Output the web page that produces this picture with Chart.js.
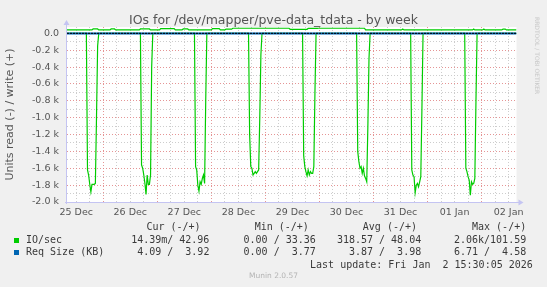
<!DOCTYPE html>
<html>
<head>
<meta charset="utf-8">
<script src="https://cdn.jsdelivr.net/npm/chart.js@4.4.0/dist/chart.umd.min.js"></script>
<style>
  html, body { margin: 0; padding: 0; background: #f0f0f0; overflow: hidden; }
  #wrap { position: relative; width: 547px; height: 287px; }
  #grafico { position: absolute; left: 0; top: 0; }
  .txt { position: absolute; white-space: pre; line-height: 12px; }
  .mono { font-family: 'DejaVu Sans Mono', monospace; font-size: 10px; color: #3a3a3a; }
  .titulo { left: 0; width: 547px; top: 13px; text-align: center; font-family: 'DejaVu Sans', sans-serif; font-size: 12.5px; color: #555; line-height: 14px; }
  .rrd { left: 533px; top: 17px; writing-mode: vertical-rl; font-family: 'DejaVu Sans', sans-serif; font-size: 6px; color: #c8c8c8; line-height: 8px; }
  .munin { left: 0; width: 547px; top: 271px; text-align: center; font-family: 'DejaVu Sans', sans-serif; font-size: 7.5px; color: #b4b4b4; line-height: 10px; }
  .box { position: absolute; width: 5px; height: 5px; }
</style>
</head>
<body>
<div id="wrap">
  <canvas id="grafico" width="547" height="287"></canvas>
  <div class="txt titulo">IOs for /dev/mapper/pve-data_tdata - by week</div>
  <div class="txt rrd">RRDTOOL / TOBI OETIKER</div>
  <div class="txt munin">Munin 2.0.57</div>
</div>
<script>
// horas desde 25 Dec 00:00
const xMin = 7.9;
const xMax = 207.5;
const dayLabels = ['25 Dec', '26 Dec', '27 Dec', '28 Dec', '29 Dec', '30 Dec', '31 Dec', '01 Jan', '02 Jan'];

// IO/sec leitura (negativo)
const readHours = [
  7.9,
  16.5, 17, 17.5, 18, 18.5, 19, 19.5, 20, 20.5, 21, 21.5, 22,
  40.5, 41, 41.5, 42, 42.5, 43, 43.5, 44, 44.5, 45, 45.5, 46,
  64.5, 65, 65.5, 66, 66.5, 67, 67.5, 68, 68.5, 69, 69.5, 70,
  88.5, 89, 89.5, 90, 90.5, 91, 91.5, 92, 92.5, 93, 93.5, 94, 94.5,
  112.5, 113, 113.5, 114, 114.5, 115, 115.5, 116, 116.5, 117, 117.5, 118, 118.5,
  136.5, 137, 137.5, 138, 138.5, 139, 139.5, 140, 140.5, 141, 141.5, 142, 142.5,
  160.5, 161, 161.5, 162, 162.5, 163, 163.5, 164, 164.5, 165, 165.5, 166,
  184.5, 185, 185.5, 186, 186.5, 187, 187.5, 188, 188.5, 189, 189.5, 190,
  207.5
];
const readValues = [
  0,
  0, -1620, -1680, -1790, -1880, -1790, -1790, -1790, -1780, -1000, -150, 0,
  0, -1560, -1600, -1680, -1780, -1910, -1680, -1790, -1790, -1680, -400, 0,
  0, -1580, -1620, -1800, -1870, -1760, -1790, -1720, -1680, -1780, -800, 0,
  0, -1200, -1580, -1600, -1680, -1660, -1640, -1660, -1640, -1620, -1000, -250, 0,
  0, -1450, -1580, -1640, -1690, -1620, -1680, -1640, -1660, -1660, -1580, -700, 0,
  0, -1400, -1520, -1600, -1580, -1660, -1600, -1690, -1720, -1760, -1100, -300, 0,
  0, -1620, -1680, -1700, -1890, -1800, -1780, -1820, -1760, -1700, -900, 0,
  0, -1600, -1640, -1700, -1740, -1920, -1760, -1790, -1780, -1720, -800, 0,
  0
];

// IO/sec escrita (positivo)
const writeHours = [
  7.9, 19, 19.5, 21.5, 22, 27, 27.5, 29, 29.5, 40, 40.5, 44.5, 45, 49, 49.5, 55.5, 56,
  59, 59.5, 61.5, 62, 72, 72.5, 75.5, 76, 78, 78.5, 81, 81.5, 106.5, 107, 114.5, 115,
  119, 119.5, 140, 140.5, 156.5, 157, 157.5, 188, 188.5, 189, 192.5, 193, 193.5,
  201, 201.5, 202.5, 203, 207.5
];
const writeValues = [
  40, 40, 52, 52, 40, 40, 52, 52, 40, 40, 52, 52, 40, 40, 55, 55, 40,
  40, 52, 52, 40, 40, 55, 55, 40, 40, 50, 50, 60, 60, 48, 48, 58,
  58, 60, 60, 40, 40, 50, 40, 40, 50, 40, 40, 50, 40,
  40, 50, 50, 40, 40
];

// Req Size (KB)
const reqHours = [7.9, 207.5];
const reqRead = [-4, -4];
const reqWrite = [4, 4];

// legenda
const legendHeader = ['Cur (-/+)', 'Min (-/+)', 'Avg (-/+)', 'Max (-/+)'];
const ioStats = ['14.39m/ 42.96', '0.00 / 33.36', '318.57 / 48.04', '2.06k/101.59'];
const reqStats = ['4.09 /  3.92', '0.00 /  3.77', '3.87 /  3.98', '6.71 /  4.58'];
const lastUpdate = 'Last update: Fri Jan  2 15:30:05 2026';

const VERDE = '#00cc00';
const AZUL = '#0066b3';

const pontos = (xs, ys) => xs.map((x, i) => ({ x: x, y: ys[i] }));

// === legenda em HTML ===
const wrap = document.getElementById('wrap');
function addTexto(txt, right, centro) {
  const el = document.createElement('div');
  el.className = 'txt mono';
  el.textContent = txt;
  el.style.right = (547 - right) + 'px';
  el.style.top = (centro - 6) + 'px';
  el.style.textAlign = 'right';
  wrap.appendChild(el);
}
function addNome(txt, cor, centro) {
  const el = document.createElement('div');
  el.className = 'txt mono';
  el.textContent = txt;
  el.style.left = '26px';
  el.style.top = (centro - 6) + 'px';
  wrap.appendChild(el);
  const b = document.createElement('div');
  b.className = 'box';
  b.style.background = cor;
  b.style.left = '14px';
  b.style.top = (centro - 2.5) + 'px';
  wrap.appendChild(b);
}
const headerRight = [200.6, 308.8, 417, 526.2];
const valueRight = [209.4, 315.8, 421.2, 526.2];
legendHeader.forEach((t, i) => addTexto(t, headerRight[i], 227.2));
addNome('IO/sec', VERDE, 240.2);
ioStats.forEach((t, i) => addTexto(t, valueRight[i], 240.2));
addNome('Req Size (KB)', AZUL, 252.4);
reqStats.forEach((t, i) => addTexto(t, valueRight[i], 252.4));
addTexto(lastUpdate, 532.8, 264.6);

// === plugin com fundo, linha zero e eixos ===
const muninPlugin = {
  id: 'muninPlugin',
  beforeDraw(chart) {
    const { ctx, chartArea: a } = chart;
    ctx.save();
    ctx.fillStyle = '#ffffff';
    ctx.fillRect(a.left, a.top, a.right - a.left, a.bottom - a.top);
    ctx.restore();
  },
  afterDatasetsDraw(chart) {
    const { ctx, chartArea: a, scales } = chart;
    const y0 = scales.y.getPixelForValue(0);
    ctx.save();
    ctx.strokeStyle = '#000000';
    ctx.lineWidth = 1;
    ctx.setLineDash([2, 1]);
    ctx.beginPath();
    ctx.moveTo(a.left, y0);
    ctx.lineTo(a.right, y0);
    ctx.stroke();
    ctx.setLineDash([]);

    const cor = '#c4c4f2';
    ctx.strokeStyle = cor;
    ctx.fillStyle = cor;
    ctx.beginPath();
    ctx.moveTo(a.left - 2, a.bottom + 0.5);
    ctx.lineTo(a.right + 3, a.bottom + 0.5);
    ctx.moveTo(a.left - 0.5, a.bottom + 2);
    ctx.lineTo(a.left - 0.5, a.top - 2);
    ctx.stroke();
    // setas
    ctx.beginPath();
    ctx.moveTo(a.right + 7, a.bottom + 0.5);
    ctx.lineTo(a.right + 2, a.bottom - 2.5);
    ctx.lineTo(a.right + 2, a.bottom + 3.5);
    ctx.closePath();
    ctx.fill();
    ctx.beginPath();
    ctx.moveTo(a.left - 0.5, a.top - 7);
    ctx.lineTo(a.left - 3.5, a.top - 2);
    ctx.lineTo(a.left + 2.5, a.top - 2);
    ctx.closePath();
    ctx.fill();
    ctx.restore();
  }
};

const corGrade = (principal) => principal ? 'rgba(225,130,130,0.85)' : 'rgba(200,200,200,0.9)';

new Chart(document.getElementById('grafico'), {
  type: 'line',
  data: {
    datasets: [
      { label: 'Req Size read', data: pontos(reqHours, reqRead), borderColor: AZUL, borderWidth: 1.5 },
      { label: 'Req Size write', data: pontos(reqHours, reqWrite), borderColor: AZUL, borderWidth: 1 },
      { label: 'IO/sec read', data: pontos(readHours, readValues), borderColor: VERDE, borderWidth: 1.2 },
      { label: 'IO/sec write', data: pontos(writeHours, writeValues), borderColor: VERDE, borderWidth: 1.2 }
    ]
  },
  options: {
    responsive: false,
    devicePixelRatio: 1,
    animation: false,
    layout: { padding: { top: 27, right: 30.5, left: 0, bottom: 0 } },
    elements: { point: { radius: 0 }, line: { tension: 0 } },
    plugins: { legend: { display: false }, tooltip: { enabled: false } },
    scales: {
      x: {
        type: 'linear',
        min: xMin,
        max: xMax,
        afterFit(scale) { scale.height = 85; },
        afterBuildTicks(scale) {
          const t = [];
          for (let h = 12; h < xMax; h += 6) t.push({ value: h });
          scale.ticks = t;
        },
        grid: {
          drawTicks: false,
          color: ctx => corGrade(ctx.tick && ctx.tick.value % 24 === 0),
          lineWidth: 1
        },
        border: { display: false, dash: [1, 2] },
        ticks: {
          autoSkip: false,
          maxRotation: 0,
          padding: 5,
          color: '#555',
          font: { family: 'DejaVu Sans', size: 9.5 },
          callback: v => (v % 24 === 12 ? dayLabels[Math.floor(v / 24)] : '')
        }
      },
      y: {
        min: -2000,
        max: 75,
        afterFit(scale) { scale.width = 67; },
        afterBuildTicks(scale) {
          const t = [];
          for (let v = -2000; v <= 0; v += 100) t.push({ value: v });
          scale.ticks = t;
        },
        grid: {
          drawTicks: false,
          color: ctx => corGrade(ctx.tick && ctx.tick.value % 200 === 0),
          lineWidth: 1
        },
        border: { display: false, dash: [1, 2] },
        title: {
          display: true,
          text: 'Units read (-) / write (+)',
          color: '#555',
          font: { family: 'DejaVu Sans', size: 11 }
        },
        ticks: {
          autoSkip: false,
          padding: 8,
          color: '#555',
          font: { family: 'DejaVu Sans', size: 9.5 },
          callback: v => {
            if (v % 200 !== 0) return '';
            return v === 0 ? '0.0' : (v / 1000).toFixed(1) + ' k';
          }
        }
      }
    }
  },
  plugins: [muninPlugin]
});
</script>
</body>
</html>
